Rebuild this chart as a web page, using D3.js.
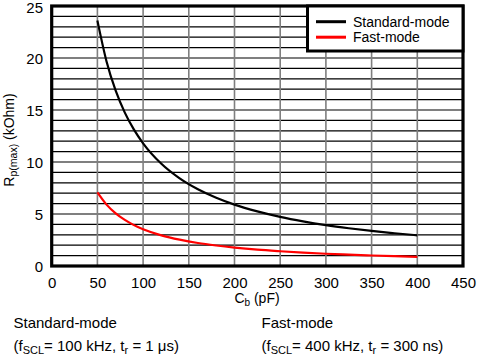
<!DOCTYPE html>
<html>
<head>
<meta charset="utf-8">
<script src="https://cdn.jsdelivr.net/npm/d3@7"></script>
<style>
  html, body { margin: 0; padding: 0; background: #fff; }
  svg { display: block; font-family: "Liberation Sans", Arial, sans-serif; }
</style>
</head>
<body>
<svg id="chart" width="496" height="355"></svg>
<script>
// ---- data ----
const capacitance = [50, 60, 70, 80, 90, 100, 120, 140, 160, 180, 200, 225, 250, 275, 300, 325, 350, 375, 400];
const standardMode = [23.6, 19.67, 16.86, 14.75, 13.11, 11.8, 9.83, 8.43, 7.38, 6.56, 5.9, 5.25, 4.72, 4.29, 3.93, 3.63, 3.37, 3.15, 2.95];
const fastMode = [7.08, 5.9, 5.06, 4.43, 3.93, 3.54, 2.95, 2.53, 2.21, 1.97, 1.77, 1.57, 1.42, 1.29, 1.18, 1.09, 1.01, 0.94, 0.885];
const xTicks = [0, 50, 100, 150, 200, 250, 300, 350, 400, 450];
const yTicks = [0, 5, 10, 15, 20, 25];
const yGrid = d3.range(0, 26, 1);
const seriesNames = ["Standard-mode", "Fast-mode"];
const seriesColors = ["#000000", "#ff0000"];

const svg = d3.select("#chart");
const L = 51.7, R = 463, T = 6, B = 266;
const x = d3.scaleLinear().domain([0, 450]).range([L, R]);
const y = d3.scaleLinear().domain([0, 25]).range([B, T]);

// horizontal grid (black, thin)
svg.append("g").selectAll("line").data(yGrid).join("line")
  .attr("x1", L).attr("x2", R)
  .attr("y1", d => y(d)).attr("y2", d => y(d))
  .attr("stroke", "#000").attr("stroke-width", 1.2);

// vertical grid (grey)
svg.append("g").selectAll("line").data(xTicks.slice(1, -1)).join("line")
  .attr("x1", d => x(d)).attr("x2", d => x(d))
  .attr("y1", T).attr("y2", B)
  .attr("stroke", "#7f7f7f").attr("stroke-width", 1.6);

// curves
const line = d3.line().x(d => x(d[0])).y(d => y(d[1])).curve(d3.curveMonotoneX);
[standardMode, fastMode].forEach((vals, i) => {
  svg.append("path")
    .datum(capacitance.map((c, j) => [c, vals[j]]))
    .attr("d", line)
    .attr("fill", "none")
    .attr("stroke", seriesColors[i])
    .attr("stroke-width", 2.2);
});

// plot frame
svg.append("rect")
  .attr("x", L).attr("y", T).attr("width", R - L).attr("height", B - T)
  .attr("fill", "none").attr("stroke", "#000").attr("stroke-width", 3.2);

// legend
const lg = svg.append("g");
lg.append("rect").attr("x", 307.5).attr("y", T).attr("width", R - 307.5).attr("height", 45)
  .attr("fill", "#fff").attr("stroke", "#000").attr("stroke-width", 3);
seriesNames.forEach((n, i) => {
  const yy = 21.7 + i * 15.5;
  lg.append("line").attr("x1", 316).attr("x2", 346).attr("y1", yy).attr("y2", yy)
    .attr("stroke", seriesColors[i]).attr("stroke-width", 3);
  lg.append("text").attr("x", 353).attr("y", yy + 5).attr("font-size", 14)
    .attr("fill", "#000").text(n);
});

// axes tick labels via d3 axes
const xAxis = d3.axisBottom(x).tickValues(xTicks).tickSize(0).tickPadding(0);
const gx = svg.append("g").attr("transform", `translate(0,${B})`).call(xAxis);
gx.select(".domain").remove();
gx.selectAll("text").attr("font-size", 15).attr("font-family", "Liberation Sans, Arial, sans-serif")
  .attr("fill", "#000").attr("dy", null).attr("y", 22);

const yAxis = d3.axisLeft(y).tickValues(yTicks).tickSize(0).tickPadding(0);
const gy = svg.append("g").attr("transform", `translate(43,0)`).call(yAxis);
gy.select(".domain").remove();
gy.selectAll("text").attr("font-size", 15).attr("font-family", "Liberation Sans, Arial, sans-serif")
  .attr("fill", "#000").attr("x", 0).attr("dy", "0.36em");
gy.selectAll(".tick").filter(d => d === 25).select("text").attr("dy", "0.42em");

// x-axis title
const xt = svg.append("text").attr("x", 257).attr("y", 303).attr("text-anchor", "middle")
  .attr("font-size", 14).attr("fill", "#000");
xt.append("tspan").text("C");
xt.append("tspan").attr("font-size", 10).attr("dy", 3).text("b");
xt.append("tspan").attr("dy", -3).text(" (pF)");

// y-axis title
const yt = svg.append("text").attr("transform", "translate(14,140) rotate(-90)")
  .attr("text-anchor", "middle").attr("font-size", 14).attr("fill", "#000");
yt.append("tspan").text("R");
yt.append("tspan").attr("font-size", 10.5).attr("dy", 3).text("p(max)");
yt.append("tspan").attr("dy", -3).text(" (kOhm)");

// bottom notes
function note(xp, title, freq, tr) {
  svg.append("text").attr("x", xp).attr("y", 327.5).attr("font-size", 15).attr("fill", "#000").text(title);
  const t = svg.append("text").attr("x", xp).attr("y", 351).attr("font-size", 15).attr("fill", "#000");
  t.append("tspan").text("(f");
  t.append("tspan").attr("font-size", 11).attr("dy", 3).text("SCL");
  t.append("tspan").attr("dy", -3).text("= " + freq + ", t");
  t.append("tspan").attr("font-size", 11).attr("dy", 3).text("r");
  t.append("tspan").attr("dy", -3).text(" = " + tr + ")");
}
note(13.5, "Standard-mode", "100 kHz", "1 μs");
note(261.5, "Fast-mode", "400 kHz", "300 ns");
</script>
</body>
</html>
